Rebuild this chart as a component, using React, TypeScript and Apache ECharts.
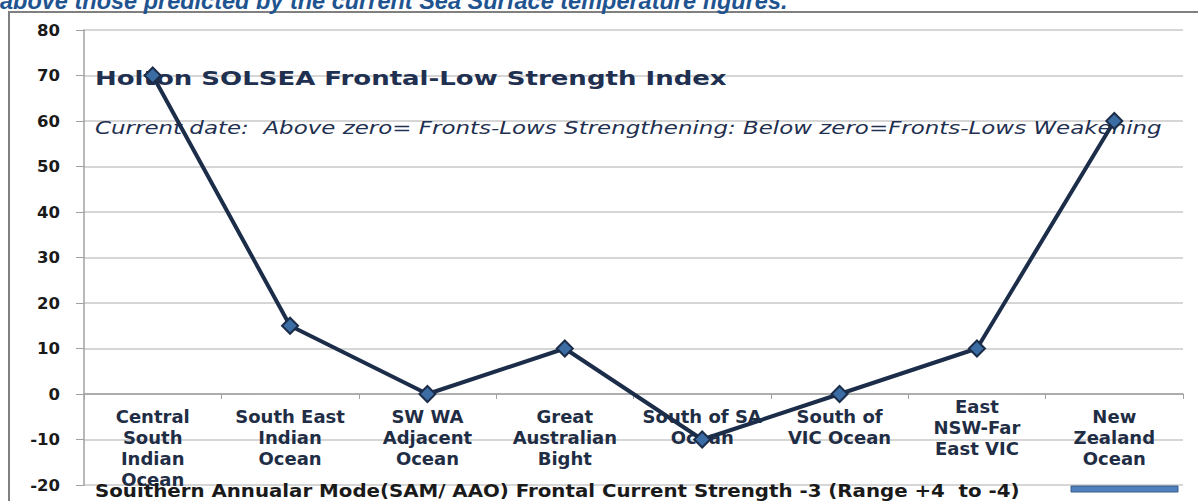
import React, { useEffect, useRef } from "react";
import * as echarts from "echarts";

const categories = [
  "Central\nSouth\nIndian\nOcean",
  "South East\nIndian\nOcean",
  "SW WA\nAdjacent\nOcean",
  "Great\nAustralian\nBight",
  "South of SA\nOcean",
  "South of\nVIC Ocean",
  "East\nNSW-Far\nEast VIC",
  "New\nZealand\nOcean",
];
const values = [70, 15, 0, 10, -10, 0, 10, 60];
const yTicks = { min: -20, max: 80, interval: 10 };
const captionText = "above those predicted by the current Sea Surface temperature figures.";
const titleText = "Holton SOLSEA Frontal-Low Strength Index";
const subtitleText =
  "Current date:  Above zero= Fronts-Lows Strengthening: Below zero=Fronts-Lows Weakening";
const legendText =
  "Souithern Annualar Mode(SAM/ AAO) Frontal Current Strength -3 (Range +4  to -4)";

export default function App() {
  const ref = useRef<HTMLDivElement>(null);
  useEffect(() => {
    if (!ref.current) return;
    const chart = echarts.init(ref.current, undefined, { renderer: "svg" });
    const labelColor = "#1f2d45";
    chart.setOption({
      animation: false,
      backgroundColor: "#ffffff",
      grid: {
        left: 84,
        right: 15,
        top: 30,
        bottom: 16,
        containLabel: false,
        outerBoundsMode: "none",
      },
      xAxis: {
        type: "category",
        data: categories.map((c, i) =>
          i === 6 ? { value: c, textStyle: { padding: [-10, 0, 0, 0] } } : c
        ),
        boundaryGap: true,
        position: "bottom",
        offset: -91,
        axisLine: { onZero: false, lineStyle: { color: "#a0a0a0", width: 1.5 } },
        axisTick: { show: true, length: 5, lineStyle: { color: "#a0a0a0" } },
        axisLabel: {
          interval: 0,
          margin: 12,
          color: labelColor,
          fontFamily: "DejaVu Sans",
          fontWeight: "bold",
          fontSize: 18,
          lineHeight: 21,
          verticalAlign: "top",
        },
        splitLine: { show: false },
      },
      yAxis: {
        type: "value",
        min: yTicks.min,
        max: yTicks.max,
        interval: yTicks.interval,
        axisLine: { show: true, lineStyle: { color: "#a0a0a0", width: 1.5 } },
        axisTick: { show: true, length: 8, lineStyle: { color: "#a0a0a0" } },
        axisLabel: {
          margin: 24,
          color: "#1a1a1a",
          fontFamily: "DejaVu Sans",
          fontWeight: "bold",
          fontSize: 16.5,
        },
        splitLine: { lineStyle: { color: "#c8c8c8", width: 1.5 } },
      },
      series: [
        {
          name: legendText,
          type: "line",
          data: values,
          z: 5,
          lineStyle: { color: "#1c2d4a", width: 4 },
          symbol: "diamond",
          symbolSize: 16,
          itemStyle: { color: "#3b6ca3", borderColor: "#1c2d4a", borderWidth: 2 },
        },
      ],
      graphic: [
        {
          type: "rect",
          z: 0,
          shape: { x: 9, y: 12, width: 1300, height: 600 },
          style: { fill: "none", stroke: "#808080", lineWidth: 2 },
        },
        {
          type: "text",
          z: 1,
          x: 0,
          y: 1,
          style: {
            text: captionText,
            font: 'italic bold 23.5px "Liberation Sans"',
            fill: "#1f5490",
            textVerticalAlign: "middle",
          },
        },
        {
          type: "text",
          z: 1,
          x: 95,
          y: 78,
          scaleX: 1.3,
          style: {
            text: titleText,
            font: 'bold 20px "DejaVu Sans"',
            fill: "#1f3050",
            textVerticalAlign: "middle",
          },
        },
        {
          type: "text",
          z: 1,
          x: 95,
          y: 128,
          scaleX: 1.35,
          style: {
            text: subtitleText,
            font: 'italic 17px "DejaVu Sans"',
            fill: "#1f3050",
            textVerticalAlign: "middle",
          },
        },
        {
          type: "text",
          z: 1,
          x: 95,
          y: 491,
          scaleX: 1.165,
          style: {
            text: legendText,
            font: 'bold 17px "DejaVu Sans"',
            fill: "#1a1a1a",
            textVerticalAlign: "middle",
          },
        },
        {
          type: "rect",
          z: 1,
          shape: { x: 1071, y: 486, width: 107, height: 6 },
          style: { fill: "#4f81bd", stroke: "#385d8a", lineWidth: 1 },
        },
      ],
    });
    return () => chart.dispose();
  }, []);
  return (
    <div
      ref={ref}
      style={{ position: "fixed", left: 0, top: 0, width: 1198, height: 501 }}
    />
  );
}
